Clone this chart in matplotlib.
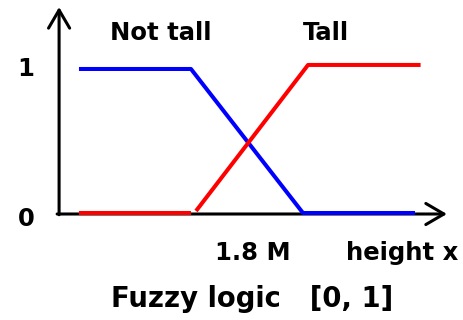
import matplotlib
matplotlib.use("Agg")
import matplotlib.pyplot as plt

# membership functions (height in m, degree of membership)
not_tall_x = [1.2, 1.6, 2.0, 2.4]
not_tall_y = [1.0, 1.0, 0.0, 0.0]

tall_flat_x = [1.2, 1.6]
tall_flat_y = [0.0, 0.0]
tall_rise_x = [1.618, 2.018, 2.42]
tall_rise_y = [0.014, 1.028, 1.028]

y_ticks = [0, 1]
x_mark = 1.8

fig = plt.figure(figsize=(4.64, 3.2), dpi=100)
ax = fig.add_axes([0, 0, 1, 1])
ax.set_xlim(0.918, 2.575)
ax.set_ylim(-0.743, 1.479)
ax.axis("off")

# axes with arrows
arrow = dict(arrowstyle="->,head_length=0.65,head_width=0.38", color="black",
             lw=2.2, mutation_scale=20, shrinkA=0, shrinkB=0)
ax.annotate("", xy=(1.129, 1.43), xytext=(1.129, -0.012), arrowprops=arrow)
ax.annotate("", xy=(2.514, -0.007), xytext=(1.122, -0.007), arrowprops=arrow)

ax.plot(not_tall_x, not_tall_y, color="blue", lw=2.9, solid_capstyle="butt", zorder=3)
ax.plot(tall_flat_x, tall_flat_y, color="red", lw=2.9, solid_capstyle="butt", zorder=3)
ax.plot(tall_rise_x, tall_rise_y, color="red", lw=2.9, solid_capstyle="butt", zorder=3)

fs = 17.5
for v in y_ticks:
    ax.text(1.01, v - 0.045 * (1 - v), str(v), fontsize=fs, fontweight="bold",
            ha="center", va="center")

ax.text(1.493, 1.25, "Not tall", fontsize=fs, fontweight="bold", ha="center", va="center")
ax.text(2.082, 1.25, "Tall", fontsize=fs, fontweight="bold", ha="center", va="center")
ax.text(x_mark + 0.021, -0.278, "1.8 M", fontsize=fs, fontweight="bold", ha="center", va="center")
ax.text(2.354, -0.278, "height x", fontsize=fs, fontweight="bold", ha="center", va="center")
ax.text(1.818, -0.6, "Fuzzy logic   [0, 1]", fontsize=19.8, fontweight="bold",
        ha="center", va="center")

fig.savefig("out.png", dpi=100)
